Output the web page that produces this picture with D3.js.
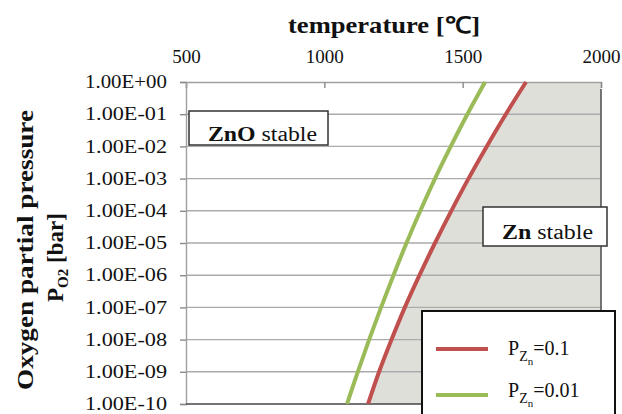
<!DOCTYPE html>
<html>
<head>
<meta charset="utf-8">
<script src="https://cdn.jsdelivr.net/npm/d3@7"></script>
<style>
  html, body { margin: 0; padding: 0; background: #fff; }
  svg { display: block; }
  svg text { font-family: "Liberation Serif", "Times New Roman", serif !important; fill: #111; }
</style>
</head>
<body>
<svg id="chart" width="622" height="414"></svg>
<script>
// pO2 [bar] at each decade line, and the temperature [°C] where each curve crosses it
const pO2 = [1e0, 1e-1, 1e-2, 1e-3, 1e-4, 1e-5, 1e-6, 1e-7, 1e-8, 1e-9, 1e-10];
const tempZn01 = [1729, 1656, 1587, 1521, 1459, 1400, 1344, 1291, 1243, 1198, 1158];
const tempZn001 = [1581, 1517, 1457, 1400, 1347, 1297, 1250, 1205, 1162, 1121, 1082];

const xTicks = [500, 1000, 1500, 2000];
const yTicks = pO2;

const series = [
    { label: '0.1', temps: tempZn01, color: '#c0504d' },
    { label: '0.01', temps: tempZn001, color: '#9bbb59' }
];

const svg = d3.select('#chart');
const plot = { left: 186, right: 601, top: 82, bottom: 404 };

const x = d3.scaleLinear().domain([500, 2000]).range([plot.left, plot.right]);
const y = d3.scaleLog().domain([1e-10, 1]).range([plot.bottom, plot.top]);

svg.append('defs').append('clipPath').attr('id', 'plotClip')
    .append('rect')
    .attr('x', plot.left).attr('y', plot.top - 2)
    .attr('width', plot.right - plot.left).attr('height', plot.bottom - plot.top + 2);

const pts = s => s.temps.map((t, i) => ({ t, p: pO2[i] }));

// Zn stable region (right of the pZn = 0.1 curve)
svg.append('path')
    .datum(pts(series[0]))
    .attr('clip-path', 'url(#plotClip)')
    .attr('fill', '#dfdfda')
    .attr('d', d3.area()
        .y(d => y(d.p))
        .x0(d => x(d.t))
        .x1(plot.right)
        .curve(d3.curveCatmullRom));

// Gridlines
svg.append('g')
    .selectAll('line')
    .data(yTicks.filter(v => v < 1 && v > 1e-10))
    .join('line')
    .attr('x1', plot.left).attr('x2', plot.right)
    .attr('y1', d => y(d)).attr('y2', d => y(d))
    .attr('stroke', '#ababab')
    .attr('stroke-width', 1.4);

// Top axis
const xAxis = d3.axisTop(x).tickValues(xTicks).tickSize(-6).tickFormat(d3.format('d'));
const gx = svg.append('g').attr('transform', `translate(0,${plot.top})`).call(xAxis);
gx.attr('font-family', null);
gx.select('.domain').attr('stroke', '#a0a0a0').attr('stroke-width', 1.4);
gx.selectAll('.tick line').attr('stroke', '#8a8a8a').attr('stroke-width', 1.4);
gx.selectAll('.tick text')
    .attr('y', -19)
    .attr('font-size', 19)
    .attr('fill', '#111');

// Left axis
const fmtE = v => {
    const e = Math.round(Math.log10(v));
    const s = e < 0 ? '-' : '+';
    return '1.00E' + s + String(Math.abs(e)).padStart(2, '0');
};
const yAxis = d3.axisLeft(y).tickValues(yTicks).tickSize(6).tickFormat(fmtE);
const gy = svg.append('g').attr('transform', `translate(${plot.left},0)`).call(yAxis);
gy.attr('font-family', null);
gy.select('.domain').attr('stroke', '#a0a0a0').attr('stroke-width', 1.4);
gy.selectAll('.tick line').attr('stroke', '#8a8a8a').attr('stroke-width', 1.4);
gy.selectAll('.tick text')
    .attr('x', -19)
    .attr('font-size', 18)
    .attr('fill', '#111')
    .attr('textLength', 82)
    .attr('lengthAdjust', 'spacingAndGlyphs');

// Right and bottom frame
svg.append('line')
    .attr('x1', plot.right).attr('x2', plot.right)
    .attr('y1', plot.top + 7).attr('y2', plot.bottom)
    .attr('stroke', '#555').attr('stroke-width', 1.6);
svg.append('line')
    .attr('x1', plot.left).attr('x2', plot.right)
    .attr('y1', plot.bottom).attr('y2', plot.bottom)
    .attr('stroke', '#444').attr('stroke-width', 1.6);

// Curves
const line = d3.line().x(d => x(d.t)).y(d => y(d.p)).curve(d3.curveCatmullRom);
svg.append('g').attr('clip-path', 'url(#plotClip)')
    .selectAll('path')
    .data(series)
    .join('path')
    .attr('fill', 'none')
    .attr('stroke', d => d.color)
    .attr('stroke-width', 4)
    .attr('d', d => line(pts(d)));

// Region labels
function regionBox(bx, by, bw, bh, tx, ty, bold, rest, len) {
    svg.append('rect')
        .attr('x', bx).attr('y', by).attr('width', bw).attr('height', bh)
        .attr('fill', '#fff').attr('stroke', '#333').attr('stroke-width', 1.5);
    const t = svg.append('text')
        .attr('x', tx).attr('y', ty)
        .attr('font-size', 20)
        .attr('textLength', len)
        .attr('lengthAdjust', 'spacingAndGlyphs');
    t.append('tspan').attr('font-weight', 'bold').text(bold);
    t.append('tspan').text(rest);
}
regionBox(189, 111, 139, 34, 208, 141, 'ZnO', ' stable', 109);
regionBox(483, 207, 124, 39, 502, 239, 'Zn', ' stable', 91);

// Axis titles
svg.append('text')
    .attr('x', 384).attr('y', 33)
    .attr('text-anchor', 'middle')
    .attr('font-size', 23).attr('font-weight', 'bold')
    .attr('textLength', 192).attr('lengthAdjust', 'spacingAndGlyphs')
    .text('temperature [℃]');

const yTitle = svg.append('g').attr('transform', 'translate(0,250) rotate(-90)');
yTitle.append('text')
    .attr('x', 0).attr('y', 33)
    .attr('text-anchor', 'middle')
    .attr('font-size', 23).attr('font-weight', 'bold')
    .attr('textLength', 280).attr('lengthAdjust', 'spacingAndGlyphs')
    .text('Oxygen partial pressure');
const pt = yTitle.append('text')
    .attr('x', -52).attr('y', 63)
    .attr('font-size', 23).attr('font-weight', 'bold');
pt.append('tspan').text('P');
pt.append('tspan').attr('font-size', 15).attr('dy', 5).text('O2');
pt.append('tspan').attr('dy', -5).text(' [bar]');

// Legend
const lg = svg.append('g');
lg.append('rect')
    .attr('x', 422).attr('y', 311).attr('width', 193).attr('height', 120)
    .attr('fill', '#fff').attr('stroke', '#111').attr('stroke-width', 2);
const row = lg.selectAll('g.row')
    .data(series)
    .join('g');
row.append('line')
    .attr('x1', 436).attr('x2', 488)
    .attr('y1', (d, i) => 349 + i * 46).attr('y2', (d, i) => 349 + i * 46)
    .attr('stroke', d => d.color)
    .attr('stroke-width', 4);
const lt = row.append('text')
    .attr('x', 508).attr('y', (d, i) => 355 + i * 42)
    .attr('font-size', 20);
lt.append('tspan').text('P');
lt.append('tspan').attr('font-size', 14).attr('dy', 6).text('Z');
lt.append('tspan').attr('font-size', 11).attr('dy', 4).text('n');
lt.append('tspan').attr('dy', -10).text(d => '=' + d.label);
</script>
</body>
</html>
